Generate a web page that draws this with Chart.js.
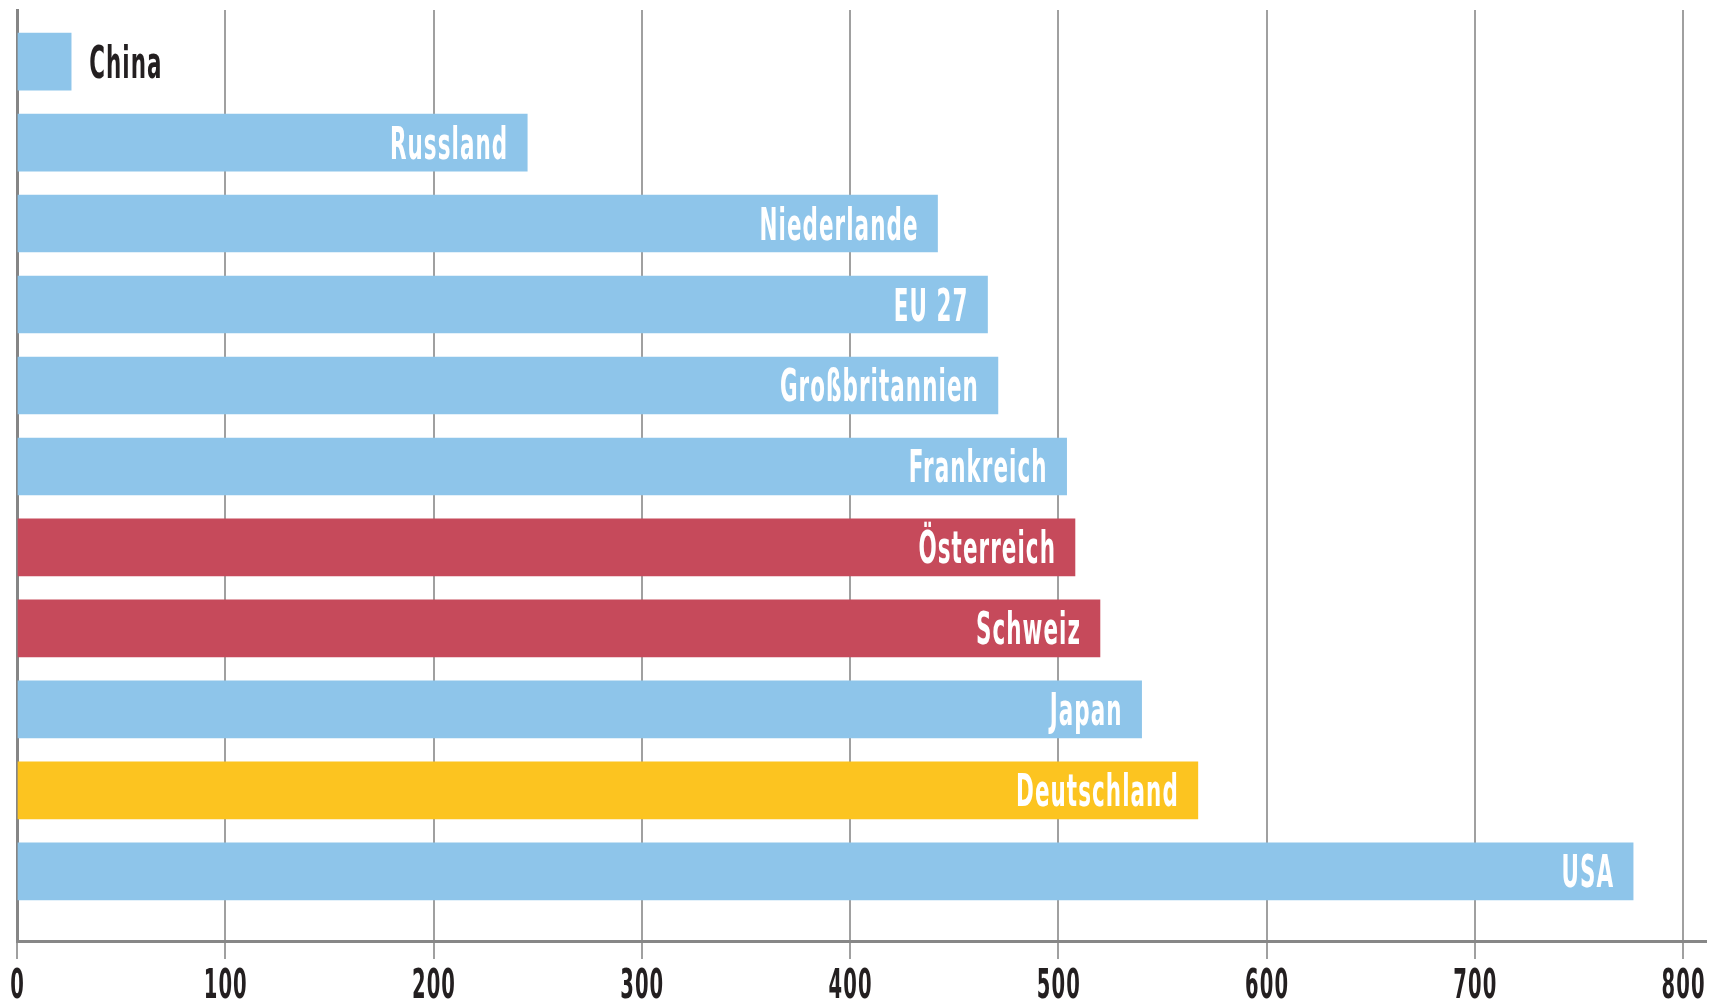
<!DOCTYPE html>
<html lang="de">
<head>
<meta charset="UTF-8">
<title>Länder</title>
<style>
  html, body { margin: 0; padding: 0; background: #fff; }
  #wrap { width: 1715px; height: 1003px; }
</style>
</head>
<body>
<div id="wrap"><canvas id="myChart"></canvas></div>

<script src="https://cdn.jsdelivr.net/npm/chart.js@4/dist/chart.umd.min.js"></script>
<script>
    // data
    const countries = ['China', 'Russland', 'Niederlande', 'EU 27', 'Großbritannien', 'Frankreich',
                       'Österreich', 'Schweiz', 'Japan', 'Deutschland', 'USA'];
    const values = [26, 245, 442, 466, 471, 504, 508, 520, 540, 567, 776];
    const xTicks = [0, 100, 200, 300, 400, 500, 600, 700, 800];

    const blue = '#8EC5EA';
    const red = '#C64A5B';
    const yellow = '#FCC420';
    const barColors = [blue, blue, blue, blue, blue, blue, red, red, blue, yellow, blue];

    // the original uses a very narrow typeface, so squeeze a condensed one
    const narrowFont = 'bold 45px "DejaVu Sans Condensed", "DejaVu Sans", sans-serif';
    const tickFont = 'bold 41px "DejaVu Sans Condensed", "DejaVu Sans", sans-serif';
    const squeeze = 0.53;

    function squeezedText(ctx, text, x, y, align) {
        ctx.save();
        ctx.translate(x, y);
        ctx.scale(squeeze, 1);
        ctx.textAlign = align;
        ctx.fillText(text, 0, 0);
        ctx.restore();
    }

    // names written into the bars (China is too short, so it goes outside)
    const barLabels = {
        id: 'barLabels',
        afterDatasetsDraw(chart) {
            const ctx = chart.ctx;
            const meta = chart.getDatasetMeta(0);
            ctx.save();
            ctx.font = narrowFont;
            ctx.letterSpacing = '2px';
            ctx.textBaseline = 'alphabetic';
            meta.data.forEach((bar, i) => {
                const name = countries[i];
                const w = ctx.measureText(name).width * squeeze;
                if (bar.x - bar.base > w + 40) {
                    ctx.fillStyle = '#ffffff';
                    squeezedText(ctx, name, bar.x - 19, bar.y + 16, 'right');
                } else {
                    ctx.fillStyle = '#231F20';
                    squeezedText(ctx, name, bar.x + 18, bar.y + 16, 'left');
                }
            });
            ctx.restore();
        }
    };

    // x tick labels, placed by the x scale
    const tickLabels = {
        id: 'tickLabels',
        afterDraw(chart) {
            const ctx = chart.ctx;
            const scale = chart.scales.x;
            ctx.save();
            ctx.font = tickFont;
            ctx.letterSpacing = '2px';
            ctx.fillStyle = '#231F20';
            ctx.textBaseline = 'alphabetic';
            scale.ticks.forEach(t => {
                squeezedText(ctx, String(t.value), scale.getPixelForValue(t.value) + 0.5, 998, 'center');
            });
            ctx.restore();
        }
    };

    const myChart = new Chart('myChart', {
        type: 'bar',
        data: {
            datasets: [{
                data: values.map((v, i) => ({ x: v, y: i })),
                backgroundColor: barColors,
                borderWidth: 0,
                barThickness: 57
            }]
        },
        options: {
            indexAxis: 'y',
            responsive: true,
            maintainAspectRatio: false,
            animation: false,
            layout: { padding: { left: 17, right: 9, top: 10, bottom: 44 } },
            plugins: {
                legend: { display: false },
                tooltip: { enabled: false }
            },
            scales: {
                y: {
                    type: 'linear',
                    reverse: true,
                    offset: false,
                    min: -0.637,
                    max: 10.86,
                    grid: { display: false, drawTicks: false },
                    ticks: { display: false },
                    border: { display: true, color: '#858585', width: 3 }
                },
                x: {
                    type: 'linear',
                    min: 0,
                    max: 811,
                    afterBuildTicks(scale) {
                        scale.ticks = xTicks.map(v => ({ value: v }));
                    },
                    border: { display: true, color: '#878787', width: 3 },
                    grid: {
                        color: '#a0a0a0',
                        lineWidth: 2,
                        drawTicks: true,
                        tickLength: 18
                    },
                    ticks: { display: false }
                }
            }
        },
        plugins: [barLabels, tickLabels]
    });
</script>
</body>
</html>
